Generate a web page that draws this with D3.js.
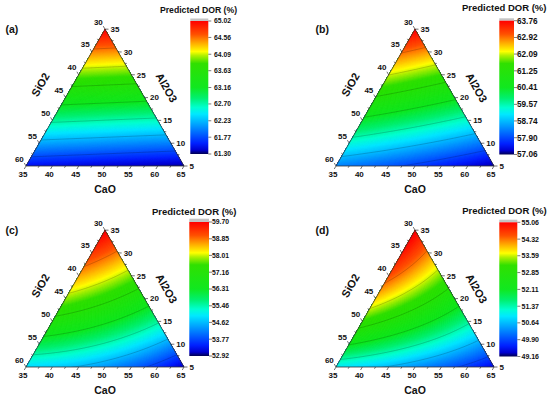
<!DOCTYPE html>
<html>
<head>
<meta charset="utf-8">
<script src="https://cdn.jsdelivr.net/npm/d3@7"></script>
<style>
body { margin: 0; background: #fff; }
text { font-family: "Liberation Sans", Arial, sans-serif; font-weight: bold; fill: #111; }
</style>
</head>
<body>
<svg id="svg"></svg>
<script>
// predicted DOR surfaces, quadratic mixture model on pseudo components
// order: Al2O3 corner, SiO2 corner, CaO corner, Al*Si, Al*Ca, Si*Ca
const coefA = [65.02, 61.50, 61.32, 0.3, 0.3, 0.0]
const coefB = [63.76, 58.30, 57.10, 0.6, 0.2, 0.3]
const coefC = [59.70, 54.82, 53.05, 2.16, 1.10, 1.46]
const coefD = [55.06, 50.93, 49.40, 3.54, 0.70, 0.70]

// colour bar labels
const barA = [61.30, 61.77, 62.23, 62.70, 63.16, 63.63, 64.09, 64.56, 65.02]
const barB = [57.06, 57.90, 58.74, 59.57, 60.41, 61.25, 62.09, 62.92, 63.76]
const barC = [52.92, 53.77, 54.62, 55.46, 56.31, 57.16, 58.01, 58.85, 59.70]
const barD = [49.16, 49.90, 50.64, 51.37, 52.11, 52.85, 53.59, 54.32, 55.06]

const panelLabels = ['(a)', '(b)', '(c)', '(d)']

// ternary axis ticks (wt %)
const caoTicks = [35, 40, 45, 50, 55, 60, 65]
const sio2Ticks = [30, 35, 40, 45, 50, 55, 60]
const al2o3Ticks = [5, 10, 15, 20, 25, 30, 35]

// rainbow map
const stopT = [0, 0.03, 0.08, 0.15, 0.22, 0.30, 0.35, 0.42, 0.50, 0.68, 0.74, 0.77, 0.83, 0.90, 1]
const stopColor = ['#000050', '#0000d0', '#0020ff', '#0060ff', '#00a0ff', '#00e8ff', '#00ffd0', '#00f070',
	'#10e820', '#30e000', '#b0f000', '#ffff00', '#ffb000', '#ff5000', '#ff0000']

const coefs = [coefA, coefB, coefC, coefD]
const bars = [barA, barB, barC, barD]

// layout per panel
const layout = [
	{ x0: 26, yb: 166, cbx: 190.3, cbw: 18, cbTop: 21, cbBot: 154, grey: 18.5, lx: 214, ls: 6.8, tx: 198.5, ty: 13.2, ts: 8.7 },
	{ x0: 336, yb: 166, cbx: 499.3, cbw: 14.7, cbTop: 20.7, cbBot: 154.5, grey: 18.3, lx: 517, ls: 8.2, tx: 504.2, ty: 10.7, ts: 9.5 },
	{ x0: 26, yb: 367, cbx: 189.3, cbw: 19.7, cbTop: 222, cbBot: 356, grey: 218.7, lx: 212, ls: 6.8, tx: 194.2, ty: 214.5, ts: 9.5 },
	{ x0: 336, yb: 367, cbx: 499.3, cbw: 18, cbTop: 222.3, cbBot: 356.5, grey: 219.7, lx: 521.5, ls: 7, tx: 504.5, ty: 214, ts: 9.5 }
]

const W = 158
const H = W * Math.sqrt(3) / 2

const svg = d3.select('#svg').attr('width', 550).attr('height', 398)
const defs = svg.append('defs')

const tColor = d3.scaleLinear().domain(stopT).range(stopColor).clamp(true)

let grad = defs.append('linearGradient').attr('id', 'cbar')
	.attr('x1', 0).attr('x2', 0).attr('y1', 1).attr('y2', 0)
grad.selectAll('stop').data(stopT).enter().append('stop')
	.attr('offset', d => d)
	.attr('stop-color', d => tColor(d))

const model = (b, u, s, c) => b[0] * u + b[1] * s + b[2] * c + b[3] * u * s + b[4] * u * c + b[5] * s * c

layout.forEach((p, k) => {
	const b = coefs[k]
	const bar = bars[k]
	const vmin = bar[0], vmax = bar[bar.length - 1]
	const yA = p.yb - H
	const xA = p.x0 + W / 2

	const g = svg.append('g')

	// scales for the three components
	const caoX = d3.scaleLinear().domain([35, 65]).range([p.x0, p.x0 + W])
	const alY = d3.scaleLinear().domain([5, 35]).range([p.yb, yA])
	const alShift = d3.scaleLinear().domain([5, 35]).range([0, W / 2])
	const pt = (cao, al) => [caoX(cao) + alShift(al), alY(al)]

	const valColor = d3.scaleLinear().domain([vmin, vmax]).range([0, 1])

	defs.append('clipPath').attr('id', 'tri' + k)
		.append('path')
		.attr('d', d3.line()([pt(35, 5), pt(65, 5), pt(35, 35)]) + 'Z')

	// sample the surface on a pixel grid
	const nx = Math.ceil(W) + 3, ny = Math.ceil(H) + 3
	const gx = p.x0 - 1, gy = yA - 1
	let values = new Array(nx * ny)
	for (let j = 0; j < ny; j++) {
		for (let i = 0; i < nx; i++) {
			let px = gx + i, py = gy + j
			let u = (p.yb - py) / H
			let c = (px - p.x0 - u * W / 2) / W
			let s = 1 - u - c
			values[i + j * nx] = model(b, u, s, c)
		}
	}

	const step = (vmax - vmin) / 160
	const th = d3.range(vmin - step, vmax + step, step)
	const bands = d3.contours().size([nx, ny]).thresholds(th)(values)
	const geo = d3.geoPath()

	let field = g.append('g').attr('clip-path', `url(#tri${k})`)
	let inner = field.append('g').attr('transform', `translate(${gx},${gy})`)
	inner.selectAll('path.band').data(bands).enter().append('path')
		.attr('class', 'band')
		.attr('d', geo)
		.attr('fill', d => tColor(valColor(d.value + step / 2)))
		.attr('stroke', d => tColor(valColor(d.value + step / 2)))
		.attr('stroke-width', 0.4)

	const lines = d3.contours().size([nx, ny]).thresholds(bar.slice(1, -1))(values)
	inner.selectAll('path.iso').data(lines).enter().append('path')
		.attr('class', 'iso')
		.attr('d', geo)
		.attr('fill', 'none')
		.attr('stroke', '#000')
		.attr('stroke-opacity', 0.3)
		.attr('stroke-width', 0.6)

	// triangle frame
	g.append('path')
		.attr('d', d3.line()([pt(35, 5), pt(65, 5), pt(35, 35)]) + 'Z')
		.attr('fill', 'none')
		.attr('stroke', '#333')
		.attr('stroke-width', 0.8)

	const minor = v => d3.range(v[0] + 2.5, v[v.length - 1], 5)
	const tick = (x, y, dx, dy, len) => g.append('line')
		.attr('x1', x).attr('y1', y).attr('x2', x + dx * len).attr('y2', y + dy * len)
		.attr('stroke', '#333').attr('stroke-width', 0.7)

	// CaO bottom axis
	caoTicks.forEach(v => {
		let [x, y] = pt(v, 5)
		tick(x, y, -0.5, 0.866, 3.5)
		g.append('text').attr('x', x - 3).attr('y', y + 11)
			.attr('text-anchor', 'middle').style('font-size', '8px').text(v)
	})
	minor(caoTicks).forEach(v => { let [x, y] = pt(v, 5); tick(x, y, -0.5, 0.866, 2) })

	// SiO2 left axis
	sio2Ticks.forEach(v => {
		let [x, y] = pt(35, 65 - v)
		tick(x, y, -0.5, -0.866, 3.5)
		g.append('text').attr('x', x - 2.2).attr('y', y - 4.5)
			.attr('text-anchor', 'end').style('font-size', '8px').text(v)
	})
	minor(sio2Ticks).forEach(v => { let [x, y] = pt(35, 65 - v); tick(x, y, -0.5, -0.866, 2) })

	// Al2O3 right axis
	al2o3Ticks.forEach(v => {
		let [x, y] = pt(70 - v, v)
		tick(x, y, 1, 0, 3.5)
		g.append('text').attr('x', x + 5.5).attr('y', y + 2.9)
			.attr('text-anchor', 'start').style('font-size', '8px').text(v)
	})
	minor(al2o3Ticks).forEach(v => { let [x, y] = pt(70 - v, v); tick(x, y, 1, 0, 2) })

	// axis titles
	g.append('text').attr('x', xA).attr('y', p.yb + 26.8)
		.attr('text-anchor', 'middle').style('font-size', '10.5px').text('CaO')
	g.append('text')
		.attr('transform', `translate(${xA - 64.5},${yA + 55.5}) rotate(-60)`)
		.attr('text-anchor', 'middle').attr('dy', '0.35em').style('font-size', '11px').text('SiO2')
	g.append('text')
		.attr('transform', `translate(${xA + 61.5},${yA + 58.5}) rotate(60)`)
		.attr('text-anchor', 'middle').attr('dy', '0.35em').style('font-size', '11px').text('Al2O3')

	g.append('text').attr('x', xA - 99.5).attr('y', yA + 3.6)
		.style('font-size', '10.5px').text(panelLabels[k])

	// colour bar
	const cbY = d3.scaleLinear().domain([vmin, vmax]).range([p.cbBot, p.cbTop])
	g.append('rect').attr('x', p.cbx).attr('y', p.grey).attr('width', p.cbw).attr('height', p.cbTop - p.grey)
		.attr('fill', '#c4c4c4')
	g.append('rect').attr('x', p.cbx).attr('y', p.cbTop).attr('width', p.cbw).attr('height', p.cbBot - p.cbTop)
		.attr('fill', 'url(#cbar)')

	bar.forEach(v => {
		let y = cbY(v)
		g.append('line').attr('x1', p.cbx + p.cbw).attr('x2', p.cbx + p.cbw + 3)
			.attr('y1', y).attr('y2', y).attr('stroke', '#444').attr('stroke-width', 0.7)
		g.append('text').attr('x', p.lx).attr('y', y).attr('dy', '0.35em')
			.style('font-size', p.ls + 'px').text(v.toFixed(2))
	})

	g.append('text').attr('x', p.tx).attr('y', p.ty).attr('text-anchor', 'middle')
		.style('font-size', p.ts + 'px').text('Predicted DOR (%)')
})
</script>
</body>
</html>
